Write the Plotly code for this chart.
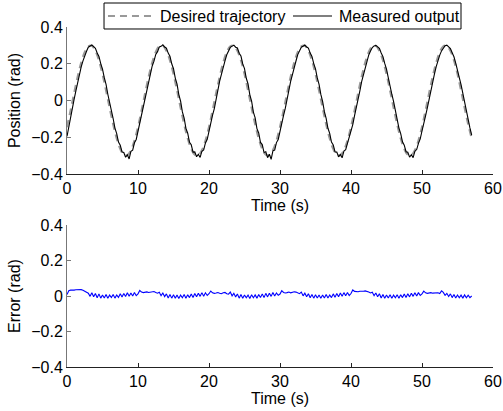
import plotly.graph_objs as go

# sampling of the recorded signals
T0 = 0.0
DT_DESIRED = 0.5
DT_MEAS = 0.25

# desired trajectory, every 0.5 s from 0 to 57 s
desired = [
    -0.145, -0.056, 0.038, 0.128, 0.205, 0.263, 0.295, 0.298, 0.271, 0.219,
    0.145, 0.056, -0.038, -0.128, -0.205, -0.263, -0.295, -0.298, -0.271, -0.219,
    -0.145, -0.056, 0.038, 0.128, 0.205, 0.263, 0.295, 0.298, 0.271, 0.219,
    0.145, 0.056, -0.038, -0.128, -0.205, -0.263, -0.295, -0.298, -0.271, -0.219,
    -0.145, -0.056, 0.038, 0.128, 0.205, 0.263, 0.295, 0.298, 0.271, 0.219,
    0.145, 0.056, -0.038, -0.128, -0.205, -0.263, -0.295, -0.298, -0.271, -0.219,
    -0.145, -0.056, 0.038, 0.128, 0.205, 0.263, 0.295, 0.298, 0.271, 0.219,
    0.145, 0.056, -0.038, -0.128, -0.205, -0.263, -0.295, -0.298, -0.271, -0.219,
    -0.145, -0.056, 0.038, 0.128, 0.205, 0.263, 0.295, 0.298, 0.271, 0.219,
    0.145, 0.056, -0.038, -0.128, -0.205, -0.263, -0.295, -0.298, -0.271, -0.219,
    -0.145, -0.056, 0.038, 0.128, 0.205, 0.263, 0.295, 0.298, 0.271, 0.219,
    0.145, 0.056, -0.038, -0.128, -0.205,
]

# measured output, every 0.25 s from 0 to 57 s
measured = [
    -0.195, -0.140, -0.090, -0.040, 0.006, 0.052, 0.100, 0.141, 0.183, 0.216,
    0.247, 0.268, 0.290, 0.296, 0.302, 0.293, 0.284, 0.259, 0.240, 0.201,
    0.171, 0.124, 0.088, 0.034, -0.006, -0.061, -0.098, -0.150, -0.180, -0.226,
    -0.243, -0.280, -0.283, -0.309, -0.296, -0.318, -0.277, -0.270, -0.230, -0.212,
    -0.166, -0.133, -0.080, -0.043, 0.012, 0.050, 0.106, 0.140, 0.188, 0.214,
    0.251, 0.266, 0.291, 0.295, 0.303, 0.291, 0.285, 0.258, 0.241, 0.200,
    0.173, 0.122, 0.089, 0.032, -0.004, -0.062, -0.096, -0.152, -0.178, -0.227,
    -0.241, -0.281, -0.280, -0.306, -0.293, -0.310, -0.276, -0.269, -0.231, -0.211,
    -0.163, -0.134, -0.079, -0.044, 0.013, 0.051, 0.105, 0.142, 0.186, 0.216,
    0.249, 0.268, 0.289, 0.296, 0.301, 0.290, 0.286, 0.257, 0.242, 0.199,
    0.174, 0.121, 0.090, 0.031, -0.003, -0.063, -0.095, -0.153, -0.177, -0.228,
    -0.240, -0.283, -0.279, -0.311, -0.292, -0.320, -0.274, -0.270, -0.229, -0.212,
    -0.164, -0.132, -0.081, -0.042, 0.011, 0.052, 0.104, 0.141, 0.187, 0.215,
    0.250, 0.267, 0.290, 0.295, 0.302, 0.291, 0.285, 0.258, 0.240, 0.201,
    0.172, 0.123, 0.088, 0.033, -0.005, -0.061, -0.097, -0.151, -0.179, -0.226,
    -0.242, -0.280, -0.281, -0.307, -0.294, -0.312, -0.275, -0.268, -0.232, -0.210,
    -0.165, -0.131, -0.082, -0.041, 0.012, 0.053, 0.103, 0.143, 0.185, 0.217,
    0.248, 0.269, 0.288, 0.297, 0.300, 0.292, 0.284, 0.259, 0.239, 0.202,
    0.171, 0.124, 0.087, 0.034, -0.006, -0.060, -0.098, -0.150, -0.180, -0.225,
    -0.243, -0.279, -0.282, -0.308, -0.295, -0.311, -0.276, -0.267, -0.233, -0.209,
    -0.166, -0.130, -0.083, -0.040, 0.010, 0.054, 0.102, 0.144, 0.184, 0.218,
    0.247, 0.270, 0.287, 0.298, 0.301, 0.293, 0.283, 0.260, 0.238, 0.203,
    0.170, 0.125, 0.086, 0.035, -0.007, -0.059, -0.099, -0.149, -0.188,
]

# tracking error, every 0.25 s from 0 to 57 s
error = [
    0.008, 0.030, 0.033, 0.032, 0.033, 0.035, 0.036, 0.037, 0.036, 0.033,
    0.028, 0.020, 0.016, -0.002, 0.018, -0.004, 0.014, -0.010, 0.012, -0.012,
    0.006, -0.011, 0.008, -0.013, 0.005, -0.009, 0.009, -0.012, 0.006, -0.008,
    0.013, -0.006, 0.014, -0.003, 0.018, -0.002, 0.017, 0.000, 0.020, 0.002,
    0.012, 0.031, 0.022, 0.019, 0.021, 0.023, 0.020, 0.023, 0.026, 0.025,
    0.020, 0.016, 0.021, 0.002, 0.017, -0.003, 0.012, -0.011, 0.009, -0.012,
    0.007, -0.012, 0.006, -0.014, 0.005, -0.010, 0.008, -0.012, 0.007, -0.009,
    0.011, -0.008, 0.014, -0.004, 0.016, -0.002, 0.019, -0.001, 0.018, 0.003,
    0.013, 0.028, 0.018, 0.015, 0.017, 0.020, 0.016, 0.013, 0.018, 0.020,
    0.013, 0.011, 0.022, 0.001, 0.015, -0.005, 0.011, -0.012, 0.008, -0.013,
    0.006, -0.010, 0.005, -0.014, 0.007, -0.010, 0.006, -0.012, 0.008, -0.008,
    0.012, -0.009, 0.015, -0.005, 0.016, -0.002, 0.020, 0.000, 0.017, 0.004,
    0.011, 0.030, 0.020, 0.017, 0.019, 0.022, 0.018, 0.021, 0.024, 0.022,
    0.017, 0.013, 0.022, 0.001, 0.016, -0.004, 0.013, -0.010, 0.009, -0.012,
    0.007, -0.011, 0.006, -0.013, 0.006, -0.011, 0.008, -0.011, 0.006, -0.009,
    0.012, -0.007, 0.014, -0.004, 0.017, -0.002, 0.019, 0.001, 0.020, 0.003,
    0.014, 0.034, 0.026, 0.023, 0.024, 0.027, 0.025, 0.027, 0.029, 0.027,
    0.022, 0.017, 0.021, 0.002, 0.017, -0.004, 0.013, -0.011, 0.008, -0.013,
    0.006, -0.011, 0.007, -0.013, 0.005, -0.010, 0.007, -0.012, 0.007, -0.009,
    0.011, -0.008, 0.013, -0.005, 0.016, -0.002, 0.018, 0.000, 0.019, 0.003,
    0.012, 0.027, 0.018, 0.015, 0.017, 0.019, 0.016, 0.018, 0.020, 0.018,
    0.014, 0.029, 0.020, 0.004, 0.015, -0.003, 0.012, -0.009, 0.008, -0.011,
    0.006, -0.010, 0.005, -0.012, 0.006, -0.010, 0.005, -0.009, 0.000,
]

legend_labels = ["Desired trajectory", "Measured output"]

FONT = "Liberation Sans, Arial, sans-serif"
FS = 16
GRAY = "#999999"
DASH = "7px,5px"

data = [
    go.Scatter(
        y=desired, x0=T0, dx=DT_DESIRED,
        mode="lines", line=dict(color=GRAY, width=2.2, dash=DASH, shape="spline"),
        name=legend_labels[0], xaxis="x", yaxis="y",
    ),
    go.Scatter(
        y=measured, x0=T0, dx=DT_MEAS,
        mode="lines", line=dict(color="black", width=1.1),
        name=legend_labels[1], xaxis="x", yaxis="y",
    ),
    go.Scatter(
        y=error, x0=T0, dx=DT_MEAS,
        mode="lines", line=dict(color="#0000ff", width=1.1),
        xaxis="x2", yaxis="y2",
    ),
]

axis_style = dict(
    showline=True, linewidth=1, mirror=False,
    ticks="inside", ticklen=4, automargin=False,
    showgrid=False, zeroline=False,
    tickfont=dict(size=FS, color="black", family=FONT),
)

def xax(anchor):
    return dict(axis_style, range=[0, 60], dtick=10, anchor=anchor,
                linecolor="#222222", tickcolor="#222222",
                title=dict(text="Time (s)", font=dict(size=FS, color="black"), standoff=0))

def yax(title, domain, anchor):
    return dict(axis_style, range=[-0.4, 0.4], dtick=0.2, domain=domain, anchor=anchor,
                linecolor="#777777", tickcolor="#777777",
                title=dict(text=title, font=dict(size=FS, color="black"), standoff=6))

# legend drawn by hand (box, line samples, labels) so it does not push the margins
LEG_Y = 0.9564
shapes = [
    dict(type="rect", xref="paper", yref="paper", x0=0.0869, x1=0.9249, y0=0.9210, y1=0.9918,
         line=dict(color="black", width=1), fillcolor="white"),
    dict(type="line", xref="paper", yref="paper", x0=0.0962, x1=0.2066, y0=LEG_Y, y1=LEG_Y,
         line=dict(color=GRAY, width=2.2, dash=DASH)),
    dict(type="line", xref="paper", yref="paper", x0=0.5305, x1=0.6221, y0=LEG_Y, y1=LEG_Y,
         line=dict(color="black", width=1.1)),
]
annotations = [
    dict(text=legend_labels[0], xref="paper", yref="paper", x=0.2136, y=LEG_Y,
         xanchor="left", yanchor="middle", showarrow=False, font=dict(size=FS, color="black")),
    dict(text=legend_labels[1], xref="paper", yref="paper", x=0.6338, y=LEG_Y,
         xanchor="left", yanchor="middle", showarrow=False, font=dict(size=FS, color="black")),
]

layout = go.Layout(
    width=503, height=411,
    margin=dict(l=67, r=10, t=0, b=44, pad=0, autoexpand=False),
    paper_bgcolor="white", plot_bgcolor="white",
    font=dict(family=FONT, size=FS, color="black"),
    xaxis=xax("y"),
    yaxis=yax("Position (rad)", [0.5259, 0.9264], "x"),
    xaxis2=xax("y2"),
    yaxis2=yax("Error (rad)", [0.0, 0.3869], "x2"),
    shapes=shapes,
    annotations=annotations,
    showlegend=False,
)

fig = go.Figure(data=data, layout=layout)
fig.write_html("out.html", config={"displayModeBar": False},
               post_script="document.body.style.margin='0';")
